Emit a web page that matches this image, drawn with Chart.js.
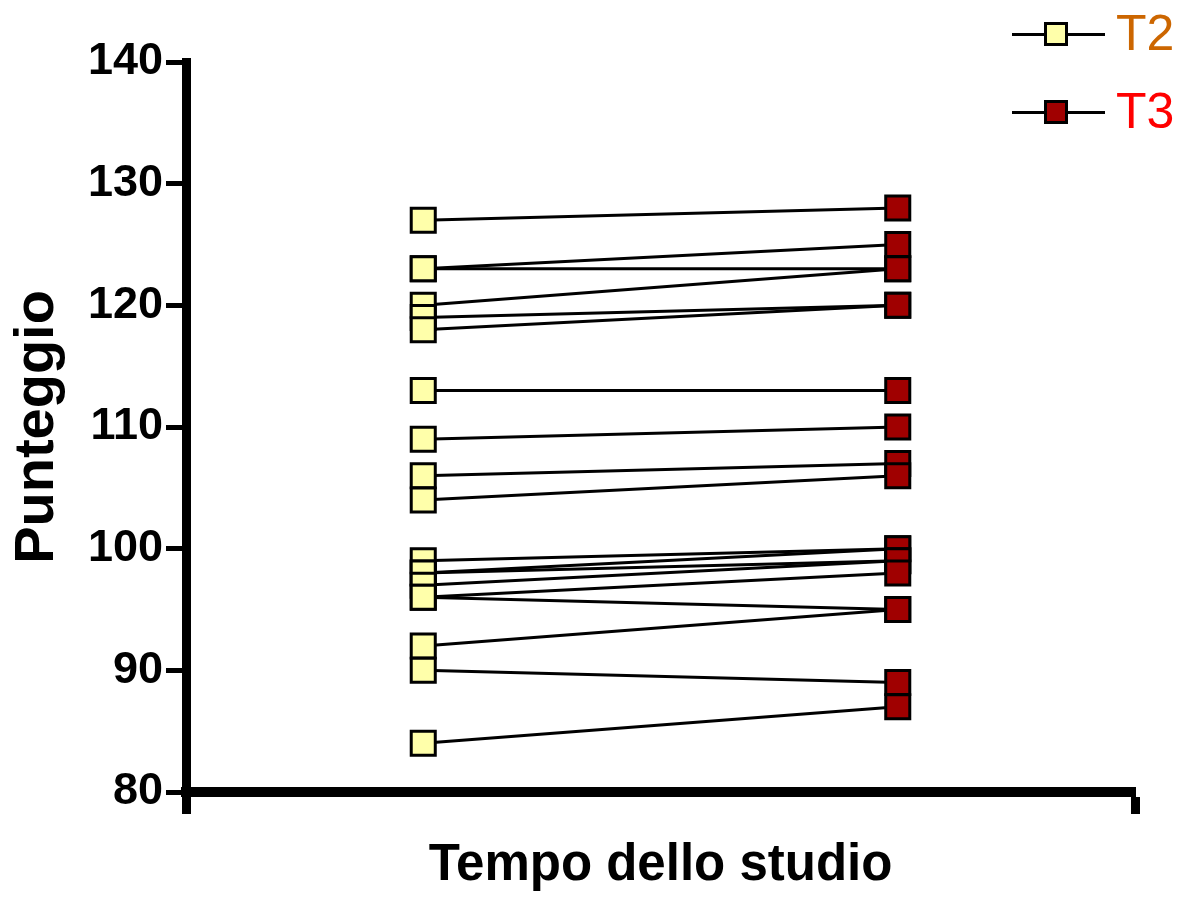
<!DOCTYPE html>
<html>
<head>
<meta charset="utf-8">
<title>Punteggio T2 / T3</title>
<script src="https://cdn.jsdelivr.net/npm/chart.js@4.4.1/dist/chart.umd.min.js"></script>
<style>
  html, body { margin: 0; padding: 0; background: #fff; }
  #wrap { position: relative; width: 1180px; height: 898px; }
  #chart { position: absolute; left: 0; top: 0; }
  .lg-line { position: absolute; height: 3px; background: #000; }
  .lg-box { position: absolute; width: 18px; height: 18px; border: 3px solid #000; }
  .lg-text { position: absolute; font-family: "Liberation Sans", Arial, sans-serif; font-size: 50px; line-height: 50px; }
</style>
</head>
<body>
<div id="wrap">
  <canvas id="chart" width="1180" height="898"></canvas>
  <!-- legend -->
  <div class="lg-line" style="left:1012px; top:33px; width:93px;"></div>
  <div class="lg-box" style="left:1044px; top:22px; background:#ffffaa;"></div>
  <div class="lg-text" style="left:1116px; top:8px; color:#cc6600;">T2</div>
  <div class="lg-line" style="left:1012px; top:111px; width:93px;"></div>
  <div class="lg-box" style="left:1044px; top:100px; background:#a00000;"></div>
  <div class="lg-text" style="left:1116px; top:86px; color:#ff0000;">T3</div>
</div>
<script>
// --- Data ---
const timeLabels = ['T2', 'T3'];
const t2Scores = [127, 123, 123, 120, 119, 118, 113, 109, 106, 104, 99, 98, 98, 97, 96, 96, 92, 90, 84];
const t3Scores = [128, 125, 123, 123, 120, 120, 113, 110, 107, 106, 100, 100, 99, 99, 98, 95, 95, 89, 87];
const yTickValues = [80, 90, 100, 110, 120, 130, 140];

// --- Style ---
const FONT = '"Liberation Sans", Arial, sans-serif';
const T2_FILL = '#ffffaa';
const T3_FILL = '#a00000';

Chart.defaults.font.family = FONT;
Chart.defaults.color = '#000';

// markers on top of lines (lower order is drawn last)
const datasets = [
    {
        label: timeLabels[0],
        data: t2Scores.map(v => ({ x: 1, y: v })),
        pointStyle: 'rect', pointRadius: 17,
        pointBackgroundColor: T2_FILL, pointBorderColor: '#000', pointBorderWidth: 3,
        showLine: false, order: 0
    },
    {
        label: timeLabels[1],
        data: t3Scores.map(v => ({ x: 2, y: v })),
        pointStyle: 'rect', pointRadius: 17,
        pointBackgroundColor: T3_FILL, pointBorderColor: '#000', pointBorderWidth: 3,
        showLine: false, order: 0
    }
];

for (let i = 0; i < t2Scores.length; i++) {
    datasets.push({
        label: 'soggetto ' + (i + 1),
        data: [{ x: 1, y: t2Scores[i] }, { x: 2, y: t3Scores[i] }],
        borderColor: '#000', borderWidth: 3,
        pointRadius: 0, showLine: true, order: 1
    });
}

const ctx = document.getElementById('chart').getContext('2d');
new Chart(ctx, {
    type: 'scatter',
    data: { datasets: datasets },
    options: {
        responsive: false,
        animation: false,
        layout: { padding: { top: 62, right: 45, bottom: 0, left: 0 } },
        plugins: { legend: { display: false }, tooltip: { enabled: false } },
        scales: {
            x: {
                type: 'linear', position: 'bottom', min: 0.5, max: 2.5,
                afterBuildTicks: s => { s.ticks = [{ value: 0.5 }, { value: 2.5 }]; },
                afterFit: s => { s.height = 106; },
                ticks: { display: false },
                border: { display: true, color: '#000', width: 10 },
                grid: { drawOnChartArea: false, drawTicks: true, tickLength: 22, tickWidth: 9, color: '#000' },
                title: {
                    display: true, text: 'Tempo dello studio', color: '#000',
                    font: { size: 51, weight: 'bold' }, padding: { top: 0, bottom: 1 }
                }
            },
            y: {
                type: 'linear', min: 80, max: 140,
                afterBuildTicks: s => { s.ticks = yTickValues.map(v => ({ value: v })); },
                afterFit: s => { s.width = 186; },
                ticks: { font: { size: 45, weight: 'bold' }, color: '#000', padding: 3 },
                border: { display: true, color: '#000', width: 9 },
                grid: { drawOnChartArea: false, drawTicks: true, tickLength: 20, tickWidth: 5, color: '#000' },
                title: {
                    display: true, text: 'Punteggio', color: '#000',
                    font: { size: 56, weight: 'bold' }, padding: { top: 4, bottom: 0 }
                }
            }
        }
    }
});
</script>
</body>
</html>
